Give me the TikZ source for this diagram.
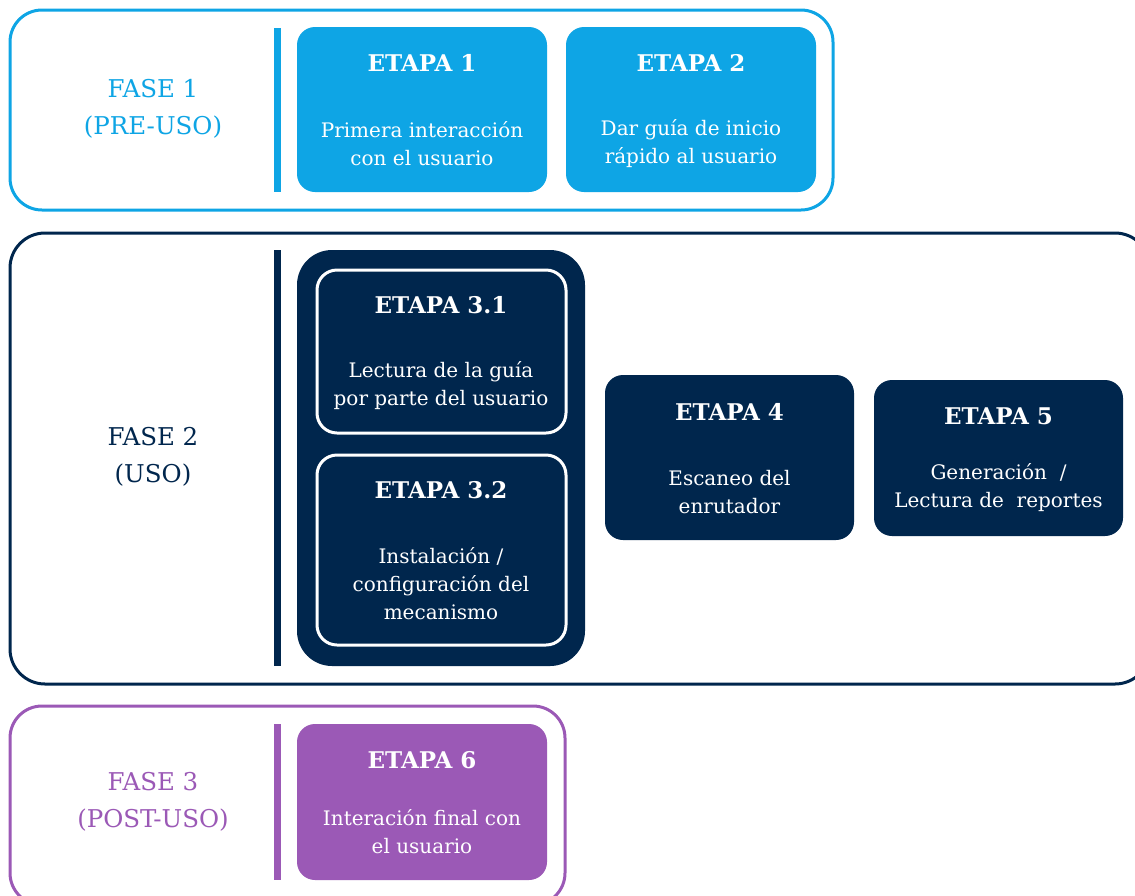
\documentclass[tikz,border=0pt]{standalone}
\usepackage{fontspec}
\setmainfont{DejaVu Serif}
\definecolor{cblue}{RGB}{14,165,229}
\definecolor{cnavy}{RGB}{0,38,77}
\definecolor{cpurp}{RGB}{155,89,182}
\begin{document}
\begin{tikzpicture}[x=1pt,y=-1pt,
  phase/.style={draw=#1, line width=3pt, rounded corners=32pt, fill=white, inner sep=0pt, outer sep=0pt},
  bar/.style={fill=#1, inner sep=0pt, outer sep=0pt, minimum width=7pt},
  stagebox/.style={fill=#1, rounded corners=18pt, inner sep=0pt, outer sep=0pt},
  innerbox/.style={draw=white, line width=3pt, fill=cnavy, rounded corners=20pt, inner sep=0pt, outer sep=0pt},
  phasetxt/.style={text=#1, align=center, inner sep=0pt, font=\fontsize{24.5}{37}\selectfont},
  ttl/.style={text=white, inner sep=0pt, font=\bfseries\fontsize{23}{28}\selectfont},
  body/.style={text=white, align=center, inner sep=0pt, font=\fontsize{20}{28}\selectfont}
]
\useasboundingbox (0,0) rectangle (1135,895);
\clip (0,0) rectangle (1135,895);

% ---- FASE 1 ----
\node[phase=cblue, minimum width=823pt, minimum height=200pt] (p1) at (421.5,110) {};
\node[bar=cblue, minimum height=164pt] (b1) at (277.5,110) {};
\node[phasetxt=cblue] (p1t) at (153,109) {FASE 1\\(PRE-USO)};
\node[stagebox=cblue, minimum width=250pt, minimum height=165pt] (e1) at (422,109.5) {};
\node[ttl] (e1t) at (422,63) {ETAPA 1};
\node[body] (e1b) at (422,144) {Primera interacción\\con el usuario};
\node[stagebox=cblue, minimum width=250pt, minimum height=165pt] (e2) at (691,109.5) {};
\node[ttl] (e2t) at (691,63) {ETAPA 2};
\node[body] (e2b) at (691,144) {Dar guía de inicio\\rápido al usuario};

% ---- FASE 2 ----
\node[phase=cnavy, minimum width=1140pt, minimum height=451pt, rounded corners=35pt] (p2) at (580,458.5) {};
\node[bar=cnavy, minimum height=416pt] (b2) at (277.5,458) {};
\node[phasetxt=cnavy] (p2t) at (153,457) {FASE 2\\(USO)};
\node[stagebox=cnavy, minimum width=288pt, minimum height=416pt, rounded corners=35pt] (e3) at (441,458) {};
\node[innerbox, minimum width=249pt, minimum height=163pt] (e31) at (441.5,351.5) {};
\node[ttl] (e31t) at (441,305) {ETAPA 3.1};
\node[body] (e31b) at (441,386) {Lectura de la guía\\por parte del usuario};
\node[innerbox, minimum width=249pt, minimum height=190pt] (e32) at (441.5,550) {};
\node[ttl] (e32t) at (441,490) {ETAPA 3.2};
\node[body] (e32b) at (441,584) {Instalación /\\configuración del\\mecanismo};
\node[stagebox=cnavy, minimum width=249pt, minimum height=165pt] (e4) at (729.5,457.5) {};
\node[ttl] (e4t) at (729.5,412) {ETAPA 4};
\node[body] (e4b) at (729.5,492) {Escaneo del\\enrutador};
\node[stagebox=cnavy, minimum width=249pt, minimum height=156pt] (e5) at (998.5,458) {};
\node[ttl] (e5t) at (998.5,416) {ETAPA 5};
\node[body] (e5b) at (998.5,488) {Generación~ /\\Lectura de~ reportes};

% ---- FASE 3 ----
\node[phase=cpurp, minimum width=555pt, minimum height=199pt] (p3) at (287.5,805.5) {};
\node[bar=cpurp, minimum height=156pt] (b3) at (277.5,802) {};
\node[phasetxt=cpurp] (p3t) at (153,802) {FASE 3\\(POST-USO)};
\node[stagebox=cpurp, minimum width=250pt, minimum height=156pt] (e6) at (422,802) {};
\node[ttl] (e6t) at (422,760) {ETAPA 6};
\node[body] (e6b) at (422,832) {Interación final con\\el usuario};
\end{tikzpicture}
\end{document}
